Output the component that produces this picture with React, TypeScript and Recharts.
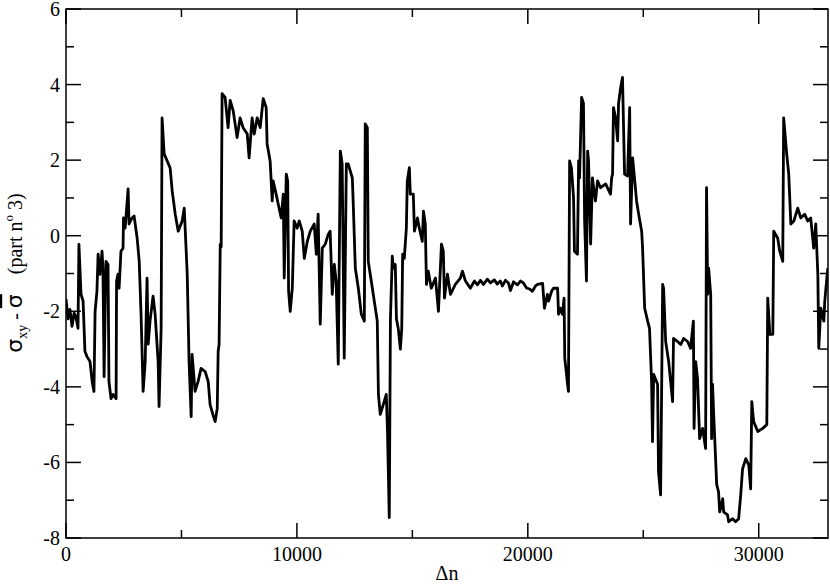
import { LineChart, Line, XAxis, YAxis, ReferenceArea } from "recharts";

// Δn positions and σxy - σ̄ values
const deltaN = [
  0, 90, 170, 260, 350, 430, 520, 560, 650, 740, 820, 910, 1040, 1130, 1210, 1260, 1340, 1390, 1470, 1560,
  1600, 1650, 1730, 1820, 1860, 1950, 2040, 2170, 2190, 2250, 2300, 2380, 2470, 2490, 2560, 2690, 2730, 2860, 2950, 3080,
  3170, 3250, 3340, 3430, 3510, 3560, 3640, 3770, 3860, 3990, 4030, 4120, 4160, 4250, 4380, 4510, 4600, 4730, 4860, 5030,
  5120, 5200, 5250, 5330, 5420, 5460, 5590, 5720, 5850, 6030, 6160, 6240, 6370, 6460, 6550, 6590, 6630, 6680, 6720, 6760,
  6890, 7020, 7110, 7240, 7410, 7540, 7670, 7850, 7930, 8060, 8150, 8280, 8410, 8540, 8670, 8710, 8840, 8930, 8970, 9100,
  9190, 9320, 9410, 9450, 9540, 9600, 9640, 9710, 9800, 9880, 10010, 10100, 10230, 10320, 10450, 10580, 10750, 10840, 10920, 11010,
  11100, 11230, 11360, 11440, 11530, 11620, 11700, 11790, 11880, 11960, 12050, 12140, 12220, 12400, 12440, 12530, 12660, 12790, 12920, 12960,
  13050, 13090, 13220, 13350, 13480, 13530, 13610, 13740, 13870, 13920, 14000, 14050, 14130, 14180, 14260, 14310, 14390, 14480, 14540, 14580,
  14650, 14740, 14780, 14870, 14910, 15040, 15090, 15220, 15300, 15430, 15480, 15560, 15610, 15690, 15820, 16000, 16130, 16260, 16340, 16390,
  16520, 16650, 16860, 17080, 17170, 17300, 17510, 17690, 17820, 17950, 18080, 18250, 18380, 18550, 18680, 18810, 18900, 19030, 19160, 19250,
  19380, 19550, 19680, 19810, 19940, 20070, 20200, 20330, 20420, 20640, 20720, 20850, 20900, 21030, 21110, 21290, 21330, 21420, 21500, 21570,
  21600, 21720, 21760, 21810, 21890, 21980, 22020, 22150, 22200, 22240, 22330, 22410, 22460, 22540, 22590, 22630, 22720, 22800, 22850, 22930,
  23020, 23150, 23370, 23580, 23630, 23670, 23710, 23800, 23890, 23930, 24020, 24100, 24190, 24320, 24410, 24450, 24540, 24580, 24710, 24800,
  24930, 24970, 25060, 25190, 25270, 25360, 25400, 25450, 25620, 25660, 25750, 25840, 25880, 25970, 26100, 26270, 26310, 26490, 26620, 26750,
  26920, 27050, 27170, 27200, 27270, 27350, 27440, 27570, 27700, 27740, 27790, 27830, 27920, 27960, 28000, 28050, 28180, 28260, 28310, 28440,
  28480, 28650, 28700, 28870, 29000, 29130, 29220, 29300, 29440, 29570, 29650, 29700, 29780, 29960, 30170, 30350, 30390, 30480, 30610, 30650,
  30820, 30910, 31040, 31080, 31210, 31300, 31390, 31520, 31690, 31820, 31990, 32120, 32250, 32380, 32470, 32560, 32600, 32690, 32820, 32860,
  32990,
];

const sigma = [
  -1.68, -2.2, -1.95, -2.4, -2.05, -2.15, -2.45, -0.23, -1.55, -1.73, -3.06, -3.2, -3.33, -3.85, -4.12, -2.0, -1.47, -0.49, -1.02, -0.41,
  -0.86, -3.73, -0.68, -0.76, -3.86, -4.31, -4.2, -4.31, -1.2, -1.02, -1.39, -0.41, -0.33, 0.47, 0.2, 1.24, 0.31, 0.47, 0.52, -0.06,
  -0.67, -2.08, -4.12, -3.33, -1.12, -2.87, -2.26, -1.6, -2.08, -3.33, -4.52, -2.45, 3.12, 2.17, 1.98, 1.79, 1.18, 0.57, 0.12, 0.39,
  0.73, -0.33, -1.02, -3.33, -4.79, -3.14, -4.12, -3.86, -3.51, -3.6, -3.86, -4.47, -4.75, -4.92, -4.57, -3.06, -2.88, -0.23, -0.3, 3.76,
  3.66, 2.86, 3.58, 3.31, 2.6, 3.12, 2.86, 2.69, 2.06, 3.12, 2.69, 3.12, 2.86, 3.63, 3.39, 2.43, 1.98, 0.92, 1.45, 1.1,
  0.84, 0.47, 1.1, -1.12, 1.63, 1.45, -1.47, -2.0, -1.39, 0.39, 0.2, 0.39, 0.12, -0.6, -0.15, 0.12, 0.31, -0.49, 0.57, -2.34,
  -0.33, -0.22, 0.04, 0.12, -1.55, -0.76, -1.2, -3.4, 2.24, 1.9, -3.24, 1.9, 1.9, 1.53, 0.84, -0.86, -1.39, -2.08, -2.26, 2.96,
  2.86, -0.68, -1.2, -1.73, -2.26, -4.2, -4.73, -4.47, -4.2, -5.1, -7.46, -2.2, -0.54, -0.86, -0.76, -2.2, -2.46, -3.0, -2.46, -0.49,
  -0.6, 0.2, 1.45, 1.8, 1.1, 1.1, 0.12, 0.47, 0.2, -0.15, 0.65, 0.31, -1.29, -0.94, -1.39, -1.12, -2.0, -0.22, -0.41, -1.65,
  -1.02, -1.55, -1.29, -1.12, -0.94, -1.2, -1.39, -1.2, -1.3, -1.18, -1.29, -1.15, -1.25, -1.17, -1.28, -1.2, -1.33, -1.18, -1.25, -1.45,
  -1.22, -1.3, -1.2, -1.25, -1.38, -1.41, -1.47, -1.33, -1.29, -1.26, -1.92, -1.55, -1.73, -1.47, -1.39, -1.39, -2.08, -1.92, -2.08, -1.65,
  -3.24, -3.93, -4.12, 1.98, 1.79, 1.0, -0.41, -0.49, 1.98, 1.53, 3.66, 3.5, 0.39, -1.2, 2.24, 1.98, -0.22, 1.53, 1.27, 0.92,
  1.45, 1.27, 1.37, 1.1, 1.53, 1.63, 3.39, 3.12, 2.51, 3.5, 3.92, 4.19, 1.63, 1.58, 3.39, 0.31, 2.06, 1.79, 0.92, 0.57,
  0.12, -0.33, -1.92, -2.26, -2.45, -3.86, -5.45, -3.67, -3.93, -6.25, -6.86, -1.29, -1.39, -2.8, -3.33, -4.39, -2.72, -2.8, -2.88, -2.72,
  -2.8, -2.98, -2.26, -5.1, -3.33, -3.78, -5.37, -5.1, -5.63, 1.27, -1.55, -0.86, -1.55, -5.37, -3.93, -4.73, -6.59, -6.78, -7.31, -6.96,
  -7.31, -7.39, -7.57, -7.49, -7.57, -7.49, -6.86, -6.17, -5.9, -6.07, -6.7, -4.39, -4.92, -5.18, -5.1, -5.0, -1.65, -2.61, -2.61, 0.12,
  -0.06, -0.41, -0.68, 3.12, 2.17, 1.63, 0.31, 0.39, 0.73, 0.47, 0.57, 0.39, 0.47, -0.33, 0.31, -1.02, -2.98, -1.92, -2.26, -1.73,
  -0.86,
];

const xTicks = [0, 5000, 10000, 15000, 20000, 25000, 30000];
const yTicks = [-8, -7, -6, -5, -4, -3, -2, -1, 0, 1, 2, 3, 4, 5, 6];

const data = deltaN.map((n, i) => ({ n, s: sigma[i] }));

const W = 830;
const H = 585;
const PL = 66;
const PR = 828;
const PT = 9;
const PB = 538;
const FONT = "'Liberation Serif', 'Times New Roman', serif";
const txt = { fontFamily: FONT, fontSize: 20 };

const XTick = (props: any) => {
  const { x, payload } = props;
  const v = payload.value;
  const major = v % 10000 === 0;
  const len = major ? 15 : 8;
  return (
    <g>
      <line x1={x} x2={x} y1={PB} y2={PB - len} stroke="#000" strokeWidth={1.5} />
      <line x1={x} x2={x} y1={PT} y2={PT + len} stroke="#000" strokeWidth={1.5} />
      {major && (
        <text x={x} y={PB + 23} textAnchor="middle" style={txt} fill="#000">
          {v}
        </text>
      )}
    </g>
  );
};

const YTick = (props: any) => {
  const { y, payload } = props;
  const v = payload.value;
  const major = v % 2 === 0;
  const len = major ? 15 : 8;
  return (
    <g>
      <line x1={PL} x2={PL + len} y1={y} y2={y} stroke="#000" strokeWidth={1.5} />
      <line x1={PR - len} x2={PR} y1={y} y2={y} stroke="#000" strokeWidth={1.5} />
      {major && (
        <text x={PL - 6} y={y + 7} textAnchor="end" style={txt} fill="#000">
          {v}
        </text>
      )}
    </g>
  );
};

const YLabel = () => (
  <text
    transform="translate(22, 273) rotate(-90)"
    textAnchor="middle"
    fill="#000"
    style={{ ...txt, whiteSpace: "pre" }}
  >
    <tspan style={{ fontFamily: "'DejaVu Sans', sans-serif", fontSize: 22 }}>σ</tspan>
    <tspan style={{ fontSize: 14 }} dy={5}>xy</tspan>
    <tspan dy={-5}>{" - "}</tspan>
    <tspan style={{ fontFamily: "'DejaVu Sans', sans-serif", fontSize: 22 }} textDecoration="overline">σ</tspan>
    <tspan>{"    (part n"}</tspan>
    <tspan style={{ fontSize: 13 }} dy={-9}>o</tspan>
    <tspan dy={9}>{" 3)"}</tspan>
  </text>
);

const XLabel = () => (
  <text x={(PL + PR) / 2} y={580} textAnchor="middle" style={txt} fill="#000">
    Δn
  </text>
);

export default function App() {
  return (
    <div style={{ position: "absolute", left: 0, top: 0, width: W, height: H, background: "#fff" }}>
      <LineChart width={W} height={H} data={data} margin={{ top: PT, right: W - PR, bottom: 0, left: 0 }}>
        <XAxis
          type="number"
          dataKey="n"
          domain={[0, 33000]}
          ticks={xTicks}
          interval={0}
          allowDataOverflow
          axisLine={false}
          tickLine={false}
          tick={XTick}
          height={H - PB}
          label={<XLabel />}
        />
        <YAxis
          type="number"
          domain={[-8, 6]}
          ticks={yTicks}
          interval={0}
          allowDataOverflow
          axisLine={false}
          tickLine={false}
          tick={YTick}
          width={PL}
          label={<YLabel />}
        />
        <ReferenceArea x1={0} x2={33000} y1={-8} y2={6} fill="none" stroke="#000" strokeWidth={1.5} />
        <Line
          type="linear"
          dataKey="s"
          stroke="#000"
          strokeWidth={2.8}
          strokeLinejoin="round"
          dot={false}
          isAnimationActive={false}
        />
      </LineChart>
    </div>
  );
}
